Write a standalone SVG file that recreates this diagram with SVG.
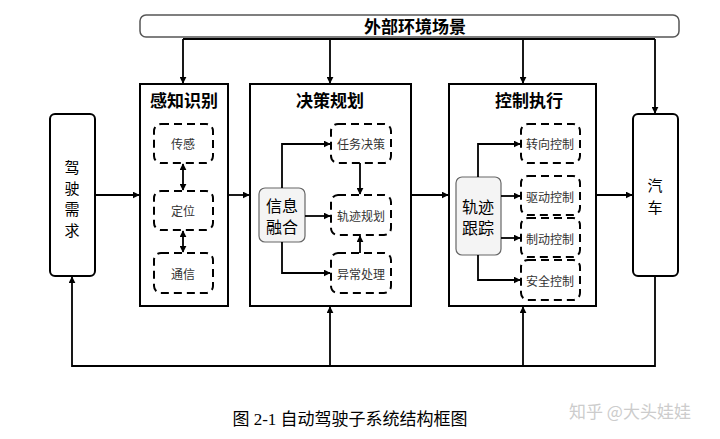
<svg xmlns="http://www.w3.org/2000/svg" width="720" height="439" viewBox="0 0 720 439">
<style>
.box{fill:#fff;stroke:#000;stroke-width:2}
.dash{fill:#fff;stroke:#000;stroke-width:2;stroke-dasharray:8,5}
.ln{fill:none;stroke:#000;stroke-width:1.8}
.t{font-family:"Noto Sans CJK SC","Liberation Sans",sans-serif;text-anchor:middle;dominant-baseline:central}
.title{font-size:17px;font-weight:bold}
.s{font-size:12px;fill:#333}
.m{font-size:16px}
.v{font-size:15px}
</style>
<defs>
<marker id="a" viewBox="0 0 10 10" refX="9" refY="5" markerWidth="7" markerHeight="7" markerUnits="userSpaceOnUse" orient="auto-start-reverse"><path d="M0,0L10,5L0,10z" fill="#000"/></marker>
</defs>
<rect width="720" height="439" fill="#fff"/>
<g id="env"><rect x="140" y="15" width="539" height="22" rx="6" fill="#fff" stroke="#555" stroke-width="1.5"/><text class="t title" x="415" y="25">外部环境场景</text></g>
<g id="demand"><rect class="box" x="50" y="114" width="45" height="162" rx="5"/><text class="t v" x="72" y="166">驾</text><text class="t v" x="72" y="187">驶</text><text class="t v" x="72" y="208">需</text><text class="t v" x="72" y="229">求</text></g>
<g id="perception"><rect class="box" x="140" y="84" width="88" height="222"/><text class="t title" x="184" y="99">感知识别</text>
<rect class="dash" x="154" y="124" width="59" height="39" rx="7"/><text class="t s" x="183" y="143">传感</text>
<rect class="dash" x="154" y="191" width="59" height="39" rx="7"/><text class="t s" x="183" y="210">定位</text>
<rect class="dash" x="154" y="253" width="59" height="40" rx="7"/><text class="t s" x="183" y="273">通信</text></g>
<g id="decision"><rect class="box" x="250" y="84" width="161" height="222"/><text class="t title" x="330" y="99">决策规划</text>
<rect x="259" y="188" width="46" height="54" rx="6" fill="#f4f4f4" stroke="#666" stroke-width="1.2"/><text class="t m" x="282" y="205">信息</text><text class="t m" x="282" y="226">融合</text>
<rect class="dash" x="331" y="124" width="60" height="39" rx="7"/><text class="t s" x="361" y="143">任务决策</text>
<rect class="dash" x="331" y="195" width="60" height="40" rx="7"/><text class="t s" x="361" y="215">轨迹规划</text>
<rect class="dash" x="331" y="253" width="60" height="40" rx="7"/><text class="t s" x="361" y="273">异常处理</text></g>
<g id="control"><rect class="box" x="449" y="84" width="147" height="222"/><text class="t title" x="529" y="99">控制执行</text>
<rect x="456" y="177" width="45" height="78" rx="6" fill="#f4f4f4" stroke="#666" stroke-width="1.2"/><text class="t m" x="478" y="206">轨迹</text><text class="t m" x="478" y="227">跟踪</text>
<rect class="dash" x="521" y="124" width="59" height="39" rx="7"/><text class="t s" x="550" y="143">转向控制</text>
<rect class="dash" x="521" y="176" width="59" height="39" rx="7"/><text class="t s" x="550" y="196">驱动控制</text>
<rect class="dash" x="521" y="218" width="59" height="39" rx="7"/><text class="t s" x="550" y="238">制动控制</text>
<rect class="dash" x="521" y="260" width="59" height="40" rx="7"/><text class="t s" x="550" y="280">安全控制</text></g>
<g id="car"><rect class="box" x="633" y="114" width="45" height="162" rx="5"/><text class="t v" x="655" y="184">汽</text><text class="t v" x="655" y="206">车</text></g>
<g id="connectors">
<path class="ln" d="M183,39H655M183,39V83" marker-end="url(#a)"/>
<path class="ln" d="M330,39V83" marker-end="url(#a)"/>
<path class="ln" d="M523,39V83" marker-end="url(#a)"/>
<path class="ln" d="M655,39V113" marker-end="url(#a)"/>
<path class="ln" d="M95,195H139" marker-end="url(#a)"/>
<path class="ln" d="M228,195H249" marker-end="url(#a)"/>
<path class="ln" d="M411,195H448" marker-end="url(#a)"/>
<path class="ln" d="M596,195H632" marker-end="url(#a)"/>
<path class="ln" d="M183,164V190" marker-start="url(#a)" marker-end="url(#a)"/>
<path class="ln" d="M183,231V252" marker-start="url(#a)" marker-end="url(#a)"/>
<path class="ln" d="M282,188V144H330" marker-end="url(#a)"/>
<path class="ln" d="M305,216H330" marker-end="url(#a)"/>
<path class="ln" d="M282,242V273H330" marker-end="url(#a)"/>
<path class="ln" d="M360,163V194" marker-end="url(#a)"/>
<path class="ln" d="M360,253V236" marker-end="url(#a)"/>
<path class="ln" d="M478,177V144H520" marker-end="url(#a)"/>
<path class="ln" d="M501,196H520" marker-end="url(#a)"/>
<path class="ln" d="M501,238H520" marker-end="url(#a)"/>
<path class="ln" d="M478,255V280H520" marker-end="url(#a)"/>
<path class="ln" d="M655,276V366H72V277" marker-end="url(#a)"/>
<path class="ln" d="M330,366V307" marker-end="url(#a)"/>
<path class="ln" d="M523,366V307" marker-end="url(#a)"/>
</g>
<text x="350" y="419" font-family="Liberation Serif,'Noto Sans CJK SC',serif" font-size="17" text-anchor="middle" dominant-baseline="central">图 2-1 自动驾驶子系统结构框图</text>
<text x="630" y="410" font-family="'Noto Sans CJK SC',sans-serif" font-size="17" fill="#ccc" text-anchor="middle" dominant-baseline="central">知乎 @大头娃娃</text>
</svg>
